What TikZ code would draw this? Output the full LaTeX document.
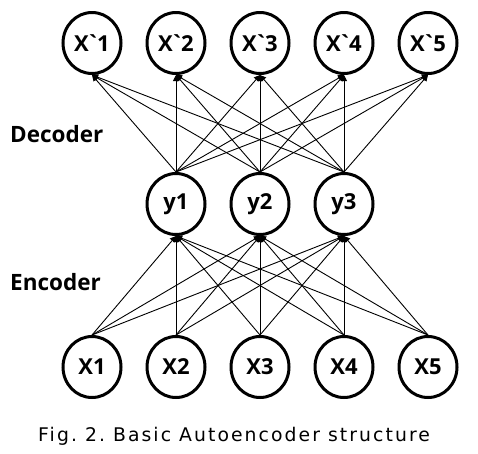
\documentclass[tikz,border=0pt]{standalone}
\usepackage{fontspec}
\setmainfont{Open Sans}[Ligatures=TeXOff]
\newfontfamily\capfont{DejaVu Sans}[LetterSpace=11]
\usetikzlibrary{shapes.geometric,arrows.meta}
\begin{document}
\begin{tikzpicture}[x=1pt,y=-1pt,
  unit/.style={ellipse,draw,line width=3pt,minimum width=58pt,minimum height=61pt,inner sep=0pt,
    font=\fontsize{22}{22}\selectfont\bfseries},
  conn/.style={line width=0.9pt,-{Triangle[length=6pt,width=6pt]}},
  lab/.style={anchor=base west,inner sep=0pt,font=\fontsize{22.5}{23}\selectfont\bfseries}]
\useasboundingbox (0,0) rectangle (478,453);
\foreach \i/\x in {1/92,2/176,3/260,4/344,5/428}{
  \node[unit] (o\i) at (\x,43) {X\kern-2.5pt`\kern-2.5pt\i};
  \node[unit] (x\i) at (\x,367) {X\i};
}
\foreach \j/\x in {1/176,2/260,3/344}{
  \node[unit] (y\j) at (\x,204) {y\j};
}
\foreach \i in {1,...,5}{
  \foreach \j in {1,2,3}{
    \draw[conn] (x\i.north) -- (y\j.south);
    \draw[conn] (y\j.north) -- (o\i.south);
  }
}
\node[lab] (dec) at (10,142) {Decoder};
\node[lab] (enc) at (10,290) {Encoder};
\node[anchor=base west,inner sep=0pt,font=\capfont\fontsize{18.8}{19}\selectfont] (cap) at (38,441.5) {Fig.\ 2.\ Basic Autoencoder structure};
\end{tikzpicture}
\end{document}
